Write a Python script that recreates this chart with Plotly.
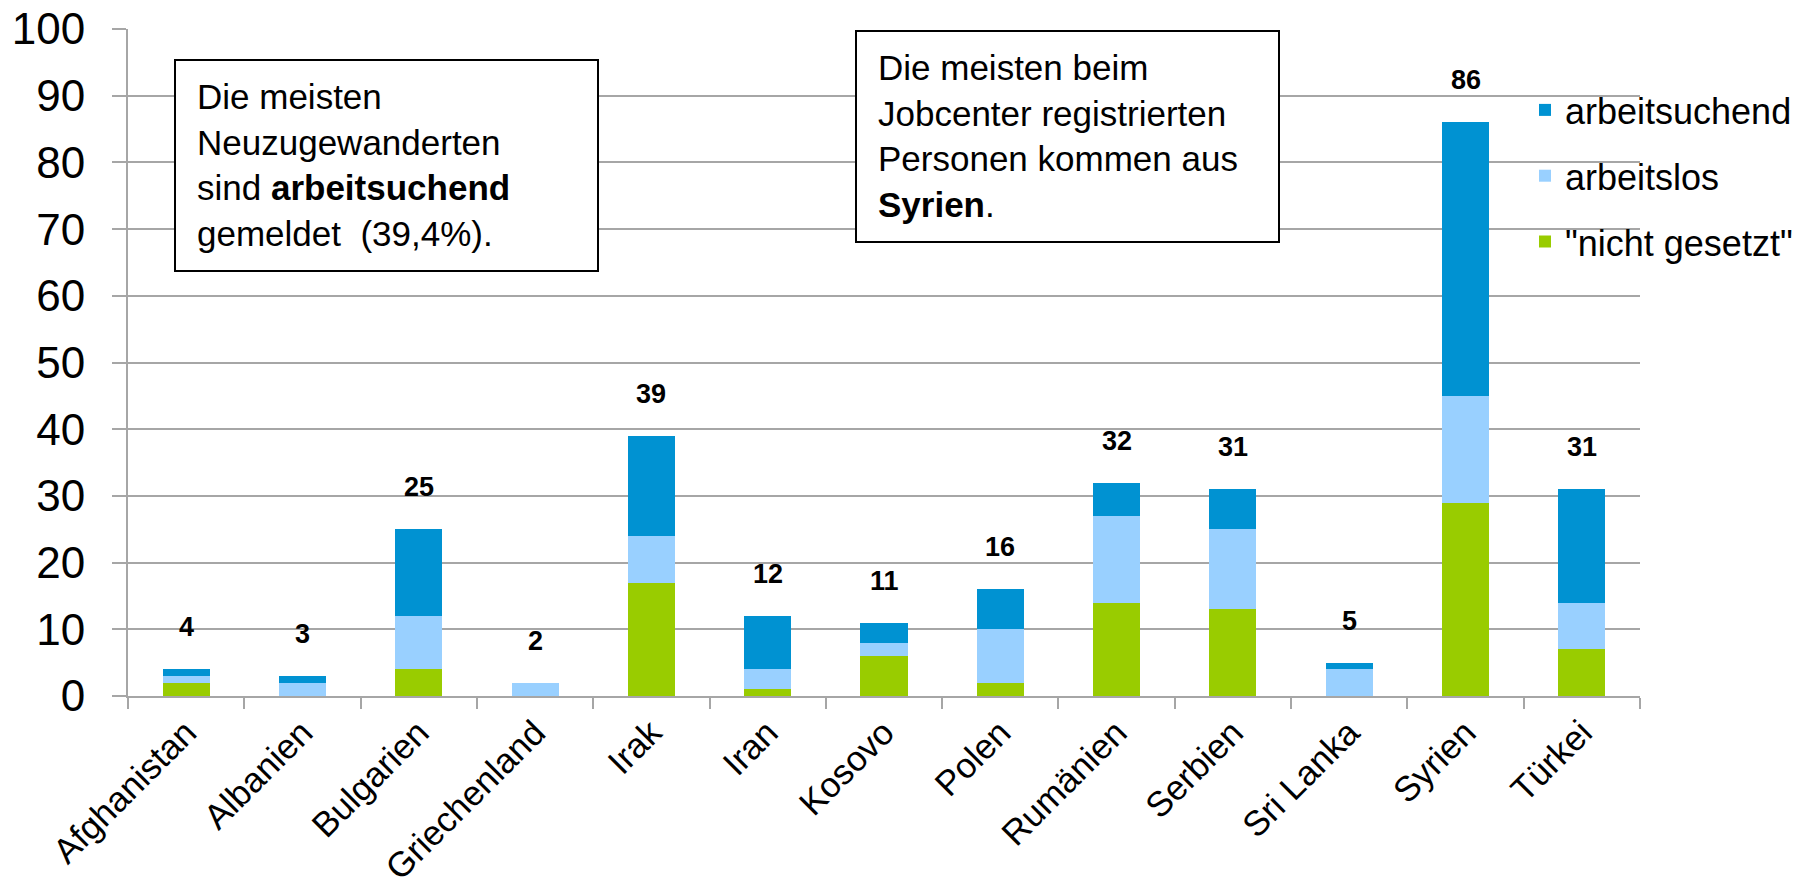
import plotly.graph_objects as go

categories = ["Afghanistan", "Albanien", "Bulgarien", "Griechenland", "Irak", "Iran",
              "Kosovo", "Polen", "Rumänien", "Serbien", "Sri Lanka", "Syrien", "Türkei"]
nicht_gesetzt = [2, 0, 4, 0, 17, 1, 6, 2, 14, 13, 0, 29, 7]
arbeitslos = [1, 2, 8, 2, 7, 3, 2, 8, 13, 12, 4, 16, 7]
arbeitsuchend = [1, 1, 13, 0, 15, 8, 3, 6, 5, 6, 1, 41, 17]
totals = [4, 3, 25, 2, 39, 12, 11, 16, 32, 31, 5, 86, 31]
y_ticks = [0, 10, 20, 30, 40, 50, 60, 70, 80, 90, 100]

FONT = "Liberation Sans, Arial, sans-serif"
GRID = "#A6A6A6"

# page body has an 8px default margin; figure is sized to fit the window
W, H = 1796, 888
ML, MR, MT, MB = 120, 164, 21, 200
PW = W - ML - MR   # 1512
PH = H - MT - MB   # 667

fig = go.Figure()
fig.add_trace(go.Bar(x=categories, y=nicht_gesetzt, name='"nicht gesetzt"',
                     marker=dict(color="#99CC00", line=dict(width=0)),
                     legendgroup="g3", legendrank=3))
fig.add_trace(go.Bar(x=categories, y=arbeitslos, name="arbeitslos",
                     marker=dict(color="#99D0FF", line=dict(width=0)),
                     legendgroup="g2", legendrank=2))
fig.add_trace(go.Bar(x=categories, y=arbeitsuchend, name="arbeitsuchend",
                     marker=dict(color="#0092D2", line=dict(width=0)),
                     legendgroup="g1", legendrank=1))

for c, t in zip(categories, totals):
    fig.add_annotation(x=c, y=t, text=f"<b>{t}</b>", showarrow=False, yshift=42,
                       yanchor="middle", font=dict(family=FONT, size=27, color="black"))

# Text boxes
box_w = 423 / PW
box_h = 211 / PH
boxes = [
    (47 / PW, 1 - 31 / PH,
     "Die meisten<br>Neuzugewanderten<br>sind <b>arbeitsuchend</b><br>gemeldet  (39,4%)."),
    (728 / PW, 1 - 2 / PH,
     "Die meisten beim<br>Jobcenter registrierten<br>Personen kommen aus<br><b>Syrien</b>."),
]
for bx, by, txt in boxes:
    fig.add_shape(type="rect", xref="paper", yref="paper", x0=bx, x1=bx + box_w,
                  y0=by - box_h, y1=by, line=dict(color="black", width=2),
                  fillcolor="white", layer="above")
    fig.add_annotation(xref="paper", yref="paper", x=bx + 20 / PW, y=by - 15 / PH,
                       xanchor="left", yanchor="top", align="left", showarrow=False,
                       text=txt, font=dict(family=FONT, size=35, color="black"))

fig.update_layout(
    barmode="stack",
    bargap=0.595,
    width=W, height=H,
    margin=dict(l=ML, r=MR, t=MT, b=MB, autoexpand=False),
    paper_bgcolor="white", plot_bgcolor="white",
    font=dict(family=FONT, color="black"),
    showlegend=True,
    legend=dict(
        x=(1517 - ML) / PW, y=1 - (72 - MT) / PH, xanchor="left", yanchor="top",
        traceorder="grouped", tracegroupgap=16,
        font=dict(family=FONT, size=36, color="black"),
        bgcolor="rgba(0,0,0,0)", borderwidth=0,
    ),
    xaxis=dict(
        type="category", tickangle=-45, tickfont=dict(family=FONT, size=35, color="black"),
        showline=True, linecolor=GRID, linewidth=2, automargin=False,
        ticks="outside", tickson="boundaries", ticklen=11, tickwidth=2, tickcolor=GRID,
        showgrid=False, ticklabeloverflow="allow",
    ),
    yaxis=dict(
        range=[0, 100], tickvals=y_ticks, tickfont=dict(family=FONT, size=44, color="black"),
        showgrid=True, gridcolor=GRID, gridwidth=2, automargin=False,
        showline=True, linecolor=GRID, linewidth=2,
        ticks="outside", ticklen=14, tickwidth=2, tickcolor=GRID,
        zeroline=False, ticklabelstandoff=18, ticklabeloverflow="allow",
    ),
)

fig.write_html("out.html")
